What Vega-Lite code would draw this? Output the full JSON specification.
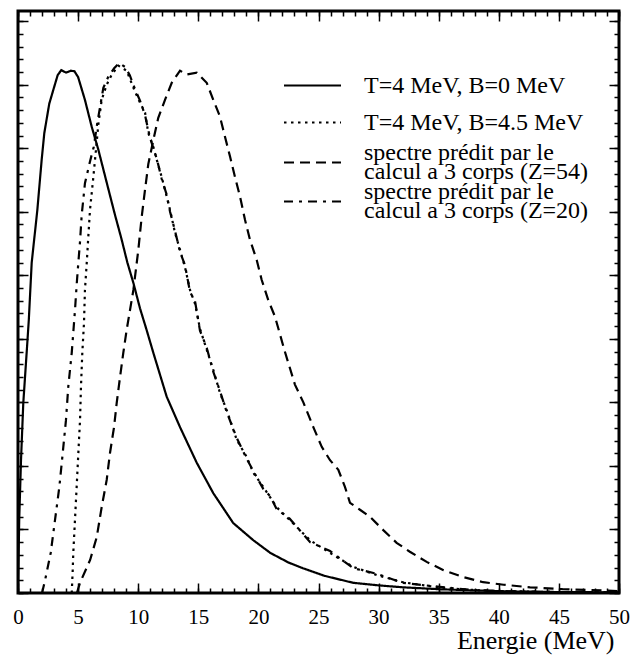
{
  "$schema": "https://vega.github.io/schema/vega-lite/v6.json",
  "width": 601,
  "height": 582,
  "autosize": {"type": "none"},
  "padding": {"left": 18, "top": 11, "right": 13, "bottom": 62},
  "background": "white",
  "config": {
    "view": {"stroke": "black", "strokeWidth": 3},
    "axis": {"grid": false, "domain": false, "tickColor": "black", "tickWidth": 1.5, "labelFont": "Liberation Serif", "labelFontSize": 21, "labelColor": "black", "titleFont": "Liberation Serif", "titleFontSize": 26, "titleFontWeight": "normal", "titleColor": "black", "labelFlush": false},
    "legend": {"orient": "none", "title": null, "labelFont": "Liberation Serif", "labelFontSize": 24, "labelColor": "black", "labelLimit": 400, "symbolType": "stroke", "symbolSize": 3249, "symbolStrokeWidth": 2, "symbolStrokeColor": "black", "labelOffset": 22, "padding": 0}
  },
  "datasets": {
    "spectres": [
      {"s": "T=4 MeV, B=0 MeV", "E": 0, "Y": 0},
      {"s": "T=4 MeV, B=0 MeV", "E": 0.1, "Y": 115},
      {"s": "T=4 MeV, B=0 MeV", "E": 0.25, "Y": 209},
      {"s": "T=4 MeV, B=0 MeV", "E": 0.44, "Y": 299},
      {"s": "T=4 MeV, B=0 MeV", "E": 0.72, "Y": 378},
      {"s": "T=4 MeV, B=0 MeV", "E": 0.9, "Y": 430},
      {"s": "T=4 MeV, B=0 MeV", "E": 1.14, "Y": 520},
      {"s": "T=4 MeV, B=0 MeV", "E": 1.61, "Y": 603},
      {"s": "T=4 MeV, B=0 MeV", "E": 1.97, "Y": 682},
      {"s": "T=4 MeV, B=0 MeV", "E": 2.19, "Y": 724},
      {"s": "T=4 MeV, B=0 MeV", "E": 2.6, "Y": 770},
      {"s": "T=4 MeV, B=0 MeV", "E": 2.94, "Y": 792},
      {"s": "T=4 MeV, B=0 MeV", "E": 3.3, "Y": 815},
      {"s": "T=4 MeV, B=0 MeV", "E": 3.6, "Y": 823},
      {"s": "T=4 MeV, B=0 MeV", "E": 4.0, "Y": 819},
      {"s": "T=4 MeV, B=0 MeV", "E": 4.4, "Y": 822},
      {"s": "T=4 MeV, B=0 MeV", "E": 4.7, "Y": 821},
      {"s": "T=4 MeV, B=0 MeV", "E": 5.0, "Y": 812},
      {"s": "T=4 MeV, B=0 MeV", "E": 5.57, "Y": 776},
      {"s": "T=4 MeV, B=0 MeV", "E": 6.13, "Y": 734},
      {"s": "T=4 MeV, B=0 MeV", "E": 6.68, "Y": 698},
      {"s": "T=4 MeV, B=0 MeV", "E": 7.38, "Y": 646},
      {"s": "T=4 MeV, B=0 MeV", "E": 8.07, "Y": 595},
      {"s": "T=4 MeV, B=0 MeV", "E": 8.6, "Y": 558},
      {"s": "T=4 MeV, B=0 MeV", "E": 9.1, "Y": 520},
      {"s": "T=4 MeV, B=0 MeV", "E": 9.6, "Y": 488},
      {"s": "T=4 MeV, B=0 MeV", "E": 10.15, "Y": 448},
      {"s": "T=4 MeV, B=0 MeV", "E": 10.7, "Y": 414},
      {"s": "T=4 MeV, B=0 MeV", "E": 11.26, "Y": 378},
      {"s": "T=4 MeV, B=0 MeV", "E": 12.37, "Y": 309},
      {"s": "T=4 MeV, B=0 MeV", "E": 13.48, "Y": 261},
      {"s": "T=4 MeV, B=0 MeV", "E": 14.87, "Y": 205},
      {"s": "T=4 MeV, B=0 MeV", "E": 16.25, "Y": 157},
      {"s": "T=4 MeV, B=0 MeV", "E": 17.91, "Y": 110},
      {"s": "T=4 MeV, B=0 MeV", "E": 19.58, "Y": 83},
      {"s": "T=4 MeV, B=0 MeV", "E": 21.0, "Y": 63},
      {"s": "T=4 MeV, B=0 MeV", "E": 22.5, "Y": 48},
      {"s": "T=4 MeV, B=0 MeV", "E": 23.7, "Y": 39},
      {"s": "T=4 MeV, B=0 MeV", "E": 25.5, "Y": 27},
      {"s": "T=4 MeV, B=0 MeV", "E": 27.9, "Y": 16},
      {"s": "T=4 MeV, B=0 MeV", "E": 30, "Y": 12},
      {"s": "T=4 MeV, B=0 MeV", "E": 32, "Y": 9},
      {"s": "T=4 MeV, B=0 MeV", "E": 35, "Y": 6},
      {"s": "T=4 MeV, B=0 MeV", "E": 38, "Y": 4},
      {"s": "T=4 MeV, B=0 MeV", "E": 41, "Y": 2.5},
      {"s": "T=4 MeV, B=0 MeV", "E": 45, "Y": 1.5},
      {"s": "T=4 MeV, B=0 MeV", "E": 50, "Y": 1},

      {"s": "T=4 MeV, B=4.5 MeV", "E": 4.47, "Y": 0},
      {"s": "T=4 MeV, B=4.5 MeV", "E": 4.55, "Y": 35},
      {"s": "T=4 MeV, B=4.5 MeV", "E": 4.6, "Y": 63},
      {"s": "T=4 MeV, B=4.5 MeV", "E": 4.74, "Y": 115},
      {"s": "T=4 MeV, B=4.5 MeV", "E": 4.88, "Y": 167},
      {"s": "T=4 MeV, B=4.5 MeV", "E": 5.02, "Y": 220},
      {"s": "T=4 MeV, B=4.5 MeV", "E": 5.16, "Y": 272},
      {"s": "T=4 MeV, B=4.5 MeV", "E": 5.24, "Y": 325},
      {"s": "T=4 MeV, B=4.5 MeV", "E": 5.35, "Y": 378},
      {"s": "T=4 MeV, B=4.5 MeV", "E": 5.49, "Y": 425},
      {"s": "T=4 MeV, B=4.5 MeV", "E": 5.57, "Y": 477},
      {"s": "T=4 MeV, B=4.5 MeV", "E": 5.72, "Y": 520},
      {"s": "T=4 MeV, B=4.5 MeV", "E": 5.85, "Y": 561},
      {"s": "T=4 MeV, B=4.5 MeV", "E": 5.99, "Y": 603},
      {"s": "T=4 MeV, B=4.5 MeV", "E": 6.27, "Y": 655},
      {"s": "T=4 MeV, B=4.5 MeV", "E": 6.49, "Y": 698},
      {"s": "T=4 MeV, B=4.5 MeV", "E": 6.68, "Y": 737},
      {"s": "T=4 MeV, B=4.5 MeV", "E": 6.96, "Y": 776},
      {"s": "T=4 MeV, B=4.5 MeV", "E": 7.38, "Y": 800},
      {"s": "T=4 MeV, B=4.5 MeV", "E": 7.8, "Y": 816},
      {"s": "T=4 MeV, B=4.5 MeV", "E": 8.35, "Y": 830},
      {"s": "T=4 MeV, B=4.5 MeV", "E": 8.7, "Y": 826},
      {"s": "T=4 MeV, B=4.5 MeV", "E": 9.04, "Y": 822},
      {"s": "T=4 MeV, B=4.5 MeV", "E": 9.73, "Y": 789},
      {"s": "T=4 MeV, B=4.5 MeV", "E": 10.15, "Y": 772},
      {"s": "T=4 MeV, B=4.5 MeV", "E": 10.57, "Y": 756},
      {"s": "T=4 MeV, B=4.5 MeV", "E": 10.84, "Y": 724},
      {"s": "T=4 MeV, B=4.5 MeV", "E": 11.26, "Y": 702},
      {"s": "T=4 MeV, B=4.5 MeV", "E": 11.54, "Y": 682},
      {"s": "T=4 MeV, B=4.5 MeV", "E": 11.95, "Y": 655},
      {"s": "T=4 MeV, B=4.5 MeV", "E": 12.37, "Y": 624},
      {"s": "T=4 MeV, B=4.5 MeV", "E": 12.65, "Y": 603},
      {"s": "T=4 MeV, B=4.5 MeV", "E": 13.06, "Y": 567},
      {"s": "T=4 MeV, B=4.5 MeV", "E": 13.48, "Y": 540},
      {"s": "T=4 MeV, B=4.5 MeV", "E": 13.89, "Y": 513},
      {"s": "T=4 MeV, B=4.5 MeV", "E": 14.31, "Y": 477},
      {"s": "T=4 MeV, B=4.5 MeV", "E": 14.73, "Y": 455},
      {"s": "T=4 MeV, B=4.5 MeV", "E": 15.14, "Y": 416},
      {"s": "T=4 MeV, B=4.5 MeV", "E": 15.7, "Y": 383},
      {"s": "T=4 MeV, B=4.5 MeV", "E": 16.25, "Y": 351},
      {"s": "T=4 MeV, B=4.5 MeV", "E": 16.8, "Y": 315},
      {"s": "T=4 MeV, B=4.5 MeV", "E": 17.36, "Y": 288},
      {"s": "T=4 MeV, B=4.5 MeV", "E": 18.2, "Y": 241},
      {"s": "T=4 MeV, B=4.5 MeV", "E": 19.03, "Y": 214},
      {"s": "T=4 MeV, B=4.5 MeV", "E": 19.58, "Y": 189},
      {"s": "T=4 MeV, B=4.5 MeV", "E": 20.4, "Y": 167},
      {"s": "T=4 MeV, B=4.5 MeV", "E": 21.0, "Y": 150},
      {"s": "T=4 MeV, B=4.5 MeV", "E": 21.52, "Y": 135},
      {"s": "T=4 MeV, B=4.5 MeV", "E": 22.6, "Y": 115},
      {"s": "T=4 MeV, B=4.5 MeV", "E": 24.3, "Y": 83},
      {"s": "T=4 MeV, B=4.5 MeV", "E": 25.96, "Y": 63},
      {"s": "T=4 MeV, B=4.5 MeV", "E": 27.9, "Y": 41},
      {"s": "T=4 MeV, B=4.5 MeV", "E": 29.9, "Y": 28},
      {"s": "T=4 MeV, B=4.5 MeV", "E": 32, "Y": 17},
      {"s": "T=4 MeV, B=4.5 MeV", "E": 34.9, "Y": 9},
      {"s": "T=4 MeV, B=4.5 MeV", "E": 37.6, "Y": 5},
      {"s": "T=4 MeV, B=4.5 MeV", "E": 40, "Y": 3},
      {"s": "T=4 MeV, B=4.5 MeV", "E": 45, "Y": 1.5},
      {"s": "T=4 MeV, B=4.5 MeV", "E": 50, "Y": 1},

      {"s": "spectre prédit par le calcul a 3 corps (Z=54)", "E": 4.9, "Y": 0},
      {"s": "spectre prédit par le calcul a 3 corps (Z=54)", "E": 5.16, "Y": 16},
      {"s": "spectre prédit par le calcul a 3 corps (Z=54)", "E": 6.0, "Y": 52},
      {"s": "spectre prédit par le calcul a 3 corps (Z=54)", "E": 6.55, "Y": 88},
      {"s": "spectre prédit par le calcul a 3 corps (Z=54)", "E": 6.96, "Y": 135},
      {"s": "spectre prédit par le calcul a 3 corps (Z=54)", "E": 7.38, "Y": 178},
      {"s": "spectre prédit par le calcul a 3 corps (Z=54)", "E": 7.65, "Y": 220},
      {"s": "spectre prédit par le calcul a 3 corps (Z=54)", "E": 7.99, "Y": 261},
      {"s": "spectre prédit par le calcul a 3 corps (Z=54)", "E": 8.21, "Y": 299},
      {"s": "spectre prédit par le calcul a 3 corps (Z=54)", "E": 8.49, "Y": 340},
      {"s": "spectre prédit par le calcul a 3 corps (Z=54)", "E": 8.76, "Y": 378},
      {"s": "spectre prédit par le calcul a 3 corps (Z=54)", "E": 9.04, "Y": 414},
      {"s": "spectre prédit par le calcul a 3 corps (Z=54)", "E": 9.6, "Y": 477},
      {"s": "spectre prédit par le calcul a 3 corps (Z=54)", "E": 10.01, "Y": 540},
      {"s": "spectre prédit par le calcul a 3 corps (Z=54)", "E": 10.29, "Y": 592},
      {"s": "spectre prédit par le calcul a 3 corps (Z=54)", "E": 10.57, "Y": 635},
      {"s": "spectre prédit par le calcul a 3 corps (Z=54)", "E": 10.84, "Y": 675},
      {"s": "spectre prédit par le calcul a 3 corps (Z=54)", "E": 11.26, "Y": 713},
      {"s": "spectre prédit par le calcul a 3 corps (Z=54)", "E": 11.67, "Y": 748},
      {"s": "spectre prédit par le calcul a 3 corps (Z=54)", "E": 12.23, "Y": 776},
      {"s": "spectre prédit par le calcul a 3 corps (Z=54)", "E": 12.79, "Y": 803},
      {"s": "spectre prédit par le calcul a 3 corps (Z=54)", "E": 13.48, "Y": 822},
      {"s": "spectre prédit par le calcul a 3 corps (Z=54)", "E": 14.03, "Y": 816},
      {"s": "spectre prédit par le calcul a 3 corps (Z=54)", "E": 14.87, "Y": 819},
      {"s": "spectre prédit par le calcul a 3 corps (Z=54)", "E": 15.7, "Y": 803},
      {"s": "spectre prédit par le calcul a 3 corps (Z=54)", "E": 16.25, "Y": 776},
      {"s": "spectre prédit par le calcul a 3 corps (Z=54)", "E": 16.8, "Y": 750},
      {"s": "spectre prédit par le calcul a 3 corps (Z=54)", "E": 17.22, "Y": 718},
      {"s": "spectre prédit par le calcul a 3 corps (Z=54)", "E": 17.64, "Y": 687},
      {"s": "spectre prédit par le calcul a 3 corps (Z=54)", "E": 18.05, "Y": 655},
      {"s": "spectre prédit par le calcul a 3 corps (Z=54)", "E": 18.47, "Y": 624},
      {"s": "spectre prédit par le calcul a 3 corps (Z=54)", "E": 18.89, "Y": 587},
      {"s": "spectre prédit par le calcul a 3 corps (Z=54)", "E": 19.3, "Y": 556},
      {"s": "spectre prédit par le calcul a 3 corps (Z=54)", "E": 19.86, "Y": 524},
      {"s": "spectre prédit par le calcul a 3 corps (Z=54)", "E": 20.27, "Y": 493},
      {"s": "spectre prédit par le calcul a 3 corps (Z=54)", "E": 20.82, "Y": 461},
      {"s": "spectre prédit par le calcul a 3 corps (Z=54)", "E": 21.38, "Y": 435},
      {"s": "spectre prédit par le calcul a 3 corps (Z=54)", "E": 22.2, "Y": 380},
      {"s": "spectre prédit par le calcul a 3 corps (Z=54)", "E": 23.04, "Y": 328},
      {"s": "spectre prédit par le calcul a 3 corps (Z=54)", "E": 23.74, "Y": 300},
      {"s": "spectre prédit par le calcul a 3 corps (Z=54)", "E": 24.57, "Y": 261},
      {"s": "spectre prédit par le calcul a 3 corps (Z=54)", "E": 25.27, "Y": 230},
      {"s": "spectre prédit par le calcul a 3 corps (Z=54)", "E": 25.96, "Y": 209},
      {"s": "spectre prédit par le calcul a 3 corps (Z=54)", "E": 26.65, "Y": 194},
      {"s": "spectre prédit par le calcul a 3 corps (Z=54)", "E": 27.2, "Y": 167},
      {"s": "spectre prédit par le calcul a 3 corps (Z=54)", "E": 27.62, "Y": 142},
      {"s": "spectre prédit par le calcul a 3 corps (Z=54)", "E": 28.45, "Y": 131},
      {"s": "spectre prédit par le calcul a 3 corps (Z=54)", "E": 29.28, "Y": 120},
      {"s": "spectre prédit par le calcul a 3 corps (Z=54)", "E": 30.39, "Y": 99},
      {"s": "spectre prédit par le calcul a 3 corps (Z=54)", "E": 31.5, "Y": 79},
      {"s": "spectre prédit par le calcul a 3 corps (Z=54)", "E": 32.6, "Y": 65},
      {"s": "spectre prédit par le calcul a 3 corps (Z=54)", "E": 34, "Y": 49},
      {"s": "spectre prédit par le calcul a 3 corps (Z=54)", "E": 35.4, "Y": 36},
      {"s": "spectre prédit par le calcul a 3 corps (Z=54)", "E": 37.05, "Y": 25},
      {"s": "spectre prédit par le calcul a 3 corps (Z=54)", "E": 38.7, "Y": 17},
      {"s": "spectre prédit par le calcul a 3 corps (Z=54)", "E": 40.4, "Y": 13},
      {"s": "spectre prédit par le calcul a 3 corps (Z=54)", "E": 42.6, "Y": 9},
      {"s": "spectre prédit par le calcul a 3 corps (Z=54)", "E": 45.3, "Y": 6},
      {"s": "spectre prédit par le calcul a 3 corps (Z=54)", "E": 48.7, "Y": 4},
      {"s": "spectre prédit par le calcul a 3 corps (Z=54)", "E": 50, "Y": 3},

      {"s": "spectre prédit par le calcul a 3 corps (Z=20)", "E": 2.0, "Y": 0},
      {"s": "spectre prédit par le calcul a 3 corps (Z=20)", "E": 2.25, "Y": 20},
      {"s": "spectre prédit par le calcul a 3 corps (Z=20)", "E": 2.72, "Y": 63},
      {"s": "spectre prédit par le calcul a 3 corps (Z=20)", "E": 3.08, "Y": 115},
      {"s": "spectre prédit par le calcul a 3 corps (Z=20)", "E": 3.44, "Y": 167},
      {"s": "spectre prédit par le calcul a 3 corps (Z=20)", "E": 3.72, "Y": 220},
      {"s": "spectre prédit par le calcul a 3 corps (Z=20)", "E": 3.99, "Y": 272},
      {"s": "spectre prédit par le calcul a 3 corps (Z=20)", "E": 4.18, "Y": 324},
      {"s": "spectre prédit par le calcul a 3 corps (Z=20)", "E": 4.47, "Y": 378},
      {"s": "spectre prédit par le calcul a 3 corps (Z=20)", "E": 4.6, "Y": 410},
      {"s": "spectre prédit par le calcul a 3 corps (Z=20)", "E": 4.74, "Y": 445},
      {"s": "spectre prédit par le calcul a 3 corps (Z=20)", "E": 4.88, "Y": 485},
      {"s": "spectre prédit par le calcul a 3 corps (Z=20)", "E": 5.02, "Y": 520},
      {"s": "spectre prédit par le calcul a 3 corps (Z=20)", "E": 5.16, "Y": 553},
      {"s": "spectre prédit par le calcul a 3 corps (Z=20)", "E": 5.3, "Y": 595},
      {"s": "spectre prédit par le calcul a 3 corps (Z=20)", "E": 5.57, "Y": 645},
      {"s": "spectre prédit par le calcul a 3 corps (Z=20)", "E": 6.0, "Y": 680},
      {"s": "spectre prédit par le calcul a 3 corps (Z=20)", "E": 6.3, "Y": 702},
      {"s": "spectre prédit par le calcul a 3 corps (Z=20)", "E": 6.6, "Y": 740},
      {"s": "spectre prédit par le calcul a 3 corps (Z=20)", "E": 7.1, "Y": 795},
      {"s": "spectre prédit par le calcul a 3 corps (Z=20)", "E": 7.5, "Y": 812},
      {"s": "spectre prédit par le calcul a 3 corps (Z=20)", "E": 8.0, "Y": 826},
      {"s": "spectre prédit par le calcul a 3 corps (Z=20)", "E": 8.4, "Y": 834},
      {"s": "spectre prédit par le calcul a 3 corps (Z=20)", "E": 8.9, "Y": 828},
      {"s": "spectre prédit par le calcul a 3 corps (Z=20)", "E": 9.3, "Y": 815},
      {"s": "spectre prédit par le calcul a 3 corps (Z=20)", "E": 9.73, "Y": 793},
      {"s": "spectre prédit par le calcul a 3 corps (Z=20)", "E": 10.15, "Y": 775},
      {"s": "spectre prédit par le calcul a 3 corps (Z=20)", "E": 10.57, "Y": 752},
      {"s": "spectre prédit par le calcul a 3 corps (Z=20)", "E": 10.84, "Y": 728},
      {"s": "spectre prédit par le calcul a 3 corps (Z=20)", "E": 11.26, "Y": 699},
      {"s": "spectre prédit par le calcul a 3 corps (Z=20)", "E": 11.54, "Y": 684},
      {"s": "spectre prédit par le calcul a 3 corps (Z=20)", "E": 11.95, "Y": 652},
      {"s": "spectre prédit par le calcul a 3 corps (Z=20)", "E": 12.37, "Y": 627},
      {"s": "spectre prédit par le calcul a 3 corps (Z=20)", "E": 12.65, "Y": 600},
      {"s": "spectre prédit par le calcul a 3 corps (Z=20)", "E": 13.06, "Y": 570},
      {"s": "spectre prédit par le calcul a 3 corps (Z=20)", "E": 13.48, "Y": 537},
      {"s": "spectre prédit par le calcul a 3 corps (Z=20)", "E": 13.89, "Y": 516},
      {"s": "spectre prédit par le calcul a 3 corps (Z=20)", "E": 14.31, "Y": 474},
      {"s": "spectre prédit par le calcul a 3 corps (Z=20)", "E": 14.73, "Y": 459},
      {"s": "spectre prédit par le calcul a 3 corps (Z=20)", "E": 15.14, "Y": 413},
      {"s": "spectre prédit par le calcul a 3 corps (Z=20)", "E": 15.7, "Y": 386},
      {"s": "spectre prédit par le calcul a 3 corps (Z=20)", "E": 16.25, "Y": 348},
      {"s": "spectre prédit par le calcul a 3 corps (Z=20)", "E": 16.8, "Y": 318},
      {"s": "spectre prédit par le calcul a 3 corps (Z=20)", "E": 17.36, "Y": 285},
      {"s": "spectre prédit par le calcul a 3 corps (Z=20)", "E": 18.2, "Y": 244},
      {"s": "spectre prédit par le calcul a 3 corps (Z=20)", "E": 19.03, "Y": 211},
      {"s": "spectre prédit par le calcul a 3 corps (Z=20)", "E": 19.58, "Y": 192},
      {"s": "spectre prédit par le calcul a 3 corps (Z=20)", "E": 20.4, "Y": 164},
      {"s": "spectre prédit par le calcul a 3 corps (Z=20)", "E": 21.0, "Y": 152},
      {"s": "spectre prédit par le calcul a 3 corps (Z=20)", "E": 21.52, "Y": 132},
      {"s": "spectre prédit par le calcul a 3 corps (Z=20)", "E": 22.6, "Y": 117},
      {"s": "spectre prédit par le calcul a 3 corps (Z=20)", "E": 24.3, "Y": 80},
      {"s": "spectre prédit par le calcul a 3 corps (Z=20)", "E": 25.96, "Y": 66},
      {"s": "spectre prédit par le calcul a 3 corps (Z=20)", "E": 27.9, "Y": 39},
      {"s": "spectre prédit par le calcul a 3 corps (Z=20)", "E": 29.9, "Y": 30},
      {"s": "spectre prédit par le calcul a 3 corps (Z=20)", "E": 32, "Y": 16},
      {"s": "spectre prédit par le calcul a 3 corps (Z=20)", "E": 34.9, "Y": 10},
      {"s": "spectre prédit par le calcul a 3 corps (Z=20)", "E": 37.6, "Y": 5},
      {"s": "spectre prédit par le calcul a 3 corps (Z=20)", "E": 40, "Y": 3},
      {"s": "spectre prédit par le calcul a 3 corps (Z=20)", "E": 45, "Y": 1.5},
      {"s": "spectre prédit par le calcul a 3 corps (Z=20)", "E": 50, "Y": 1}
    ]
  },
  "data": {"name": "spectres"},
  "layer": [
    {
      "transform": [{"filter": {"field": "s", "equal": "T=4 MeV, B=0 MeV"}}],
      "mark": {"type": "line", "color": "black", "strokeWidth": 2.2, "clip": true},
      "encoding": {
        "x": {"field": "E", "type": "quantitative", "scale": {"domain": [0, 50], "nice": false, "zero": false},
              "axis": {"orient": "bottom", "values": [0, 5, 10, 15, 20, 25, 30, 35, 40, 45, 50], "tickSize": -10, "labelPadding": 23, "title": "Energie (MeV)", "titleAnchor": "end", "titleAlign": "right", "titleX": 596, "titlePadding": 0}},
        "y": {"field": "Y", "type": "quantitative", "scale": {"domain": [0, 916], "nice": false, "zero": false},
              "axis": {"orient": "left", "values": [0, 100, 200, 300, 400, 500, 600, 700, 800, 900], "tickSize": -10, "labels": false, "title": null}},
        "strokeDash": {"field": "s", "type": "nominal",
              "scale": {"domain": ["T=4 MeV, B=0 MeV"], "range": [[1, 0]]},
              "legend": {"legendX": 265, "legendY": 45, "symbolType": "stroke"}}
      }
    },
    {
      "transform": [{"filter": {"field": "s", "equal": "T=4 MeV, B=4.5 MeV"}}],
      "mark": {"type": "line", "color": "black", "strokeWidth": 2.2, "clip": true},
      "encoding": {
        "x": {"field": "E", "type": "quantitative", "scale": {"domain": [0, 50], "nice": false, "zero": false},
              "axis": {"orient": "bottom", "values": [0,1,2,3,4,5,6,7,8,9,10,11,12,13,14,15,16,17,18,19,20,21,22,23,24,25,26,27,28,29,30,31,32,33,34,35,36,37,38,39,40,41,42,43,44,45,46,47,48,49,50], "tickSize": -5, "labels": false, "title": null}},
        "y": {"field": "Y", "type": "quantitative", "scale": {"domain": [0, 916], "nice": false, "zero": false},
              "axis": {"orient": "left", "values": [0,20,40,60,80,100,120,140,160,180,200,220,240,260,280,300,320,340,360,380,400,420,440,460,480,500,520,540,560,580,600,620,640,660,680,700,720,740,760,780,800,820,840,860,880,900], "tickSize": -5, "labels": false, "title": null}},
        "strokeDash": {"field": "s", "type": "nominal",
              "scale": {"domain": ["T=4 MeV, B=4.5 MeV"], "range": [[2.5, 4.5]]},
              "legend": {"legendX": 265, "legendY": 82, "symbolType": "stroke"}}
      }
    },
    {
      "transform": [{"filter": {"field": "s", "equal": "spectre prédit par le calcul a 3 corps (Z=54)"}}],
      "mark": {"type": "line", "color": "black", "strokeWidth": 2.2, "clip": true},
      "encoding": {
        "x": {"field": "E", "type": "quantitative", "scale": {"domain": [0, 50], "nice": false, "zero": false},
              "axis": {"orient": "top", "values": [0, 5, 10, 15, 20, 25, 30, 35, 40, 45, 50], "tickSize": -10, "labels": false, "title": null}},
        "y": {"field": "Y", "type": "quantitative", "scale": {"domain": [0, 916], "nice": false, "zero": false},
              "axis": {"orient": "right", "values": [0, 100, 200, 300, 400, 500, 600, 700, 800, 900], "tickSize": -10, "labels": false, "title": null}},
        "strokeDash": {"field": "s", "type": "nominal",
              "scale": {"domain": ["spectre prédit par le calcul a 3 corps (Z=54)"], "range": [[10, 6]]},
              "legend": {"legendX": 265, "legendY": 122, "symbolType": "stroke",
                         "labelExpr": "[substring(datum.label, 0, 21), substring(datum.label, 22)]",
                         "encode": {"labels": {"update": {"lineHeight": {"value": 19}, "dy": {"value": -10}}}}}}
      }
    },
    {
      "transform": [{"filter": {"field": "s", "equal": "spectre prédit par le calcul a 3 corps (Z=20)"}}],
      "mark": {"type": "line", "color": "black", "strokeWidth": 2.2, "clip": true},
      "encoding": {
        "x": {"field": "E", "type": "quantitative", "scale": {"domain": [0, 50], "nice": false, "zero": false},
              "axis": {"orient": "top", "values": [0,1,2,3,4,5,6,7,8,9,10,11,12,13,14,15,16,17,18,19,20,21,22,23,24,25,26,27,28,29,30,31,32,33,34,35,36,37,38,39,40,41,42,43,44,45,46,47,48,49,50], "tickSize": -5, "labels": false, "title": null}},
        "y": {"field": "Y", "type": "quantitative", "scale": {"domain": [0, 916], "nice": false, "zero": false},
              "axis": {"orient": "right", "values": [0,20,40,60,80,100,120,140,160,180,200,220,240,260,280,300,320,340,360,380,400,420,440,460,480,500,520,540,560,580,600,620,640,660,680,700,720,740,760,780,800,820,840,860,880,900], "tickSize": -5, "labels": false, "title": null}},
        "strokeDash": {"field": "s", "type": "nominal",
              "scale": {"domain": ["spectre prédit par le calcul a 3 corps (Z=20)"], "range": [[9, 6, 3, 6]]},
              "legend": {"legendX": 265, "legendY": 161, "symbolType": "stroke",
                         "labelExpr": "[substring(datum.label, 0, 21), substring(datum.label, 22)]",
                         "encode": {"labels": {"update": {"lineHeight": {"value": 19}, "dy": {"value": -10}}}}}}
      }
    }
  ],
  "resolve": {"scale": {"strokeDash": "independent"}, "axis": {"x": "independent", "y": "independent"}}
}
